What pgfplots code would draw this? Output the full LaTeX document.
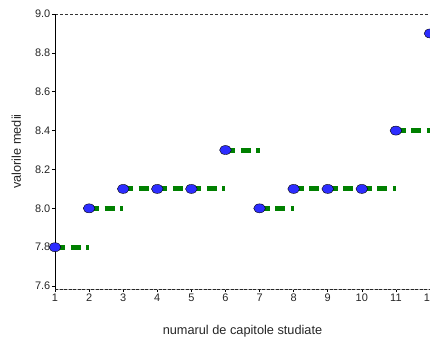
\documentclass[border=0pt]{standalone}
\usepackage{pgfplots}
\pgfplotsset{compat=1.18}
\usepackage{pgfplotstable}
\usepackage{fontspec}
\setmainfont{Liberation Sans}
\definecolor{mkblue}{RGB}{45,45,255}
\definecolor{lngreen}{RGB}{0,128,0}

\pgfplotstableread{
x y
1 7.8
2 7.8
2 nan
2 8.0
3 8.0
3 nan
3 8.1
4 8.1
4 nan
4 8.1
5 8.1
5 nan
5 8.1
6 8.1
6 nan
6 8.3
7 8.3
7 nan
7 8.0
8 8.0
8 nan
8 8.1
9 8.1
9 nan
9 8.1
10 8.1
10 nan
10 8.1
11 8.1
11 nan
11 8.4
12 8.4
}\segs

\pgfplotstableread{
x y
1 7.8
2 8.0
3 8.1
4 8.1
5 8.1
6 8.3
7 8.0
8 8.1
9 8.1
10 8.1
11 8.4
12 8.9
}\pts

\begin{document}
\begin{tikzpicture}
\begin{axis}[
  scale only axis,
  width=375bp, height=275bp,
  xmin=1, xmax=12, ymin=7.585, ymax=9.0,
  xtick={1,...,12},
  ytick={7.6,7.8,8.0,8.2,8.4,8.6,8.8,9.0},
  /pgf/number format/assume math mode=true,
  yticklabel style={/pgf/number format/.cd, fixed, fixed zerofill, precision=1},
  tick label style={font=\fontsize{11}{13}\selectfont, text=black!85, inner sep=1.5bp},
  tick align=outside,
  major tick length=3bp,
  tick style={black, line width=0.6bp},
  xtick pos=bottom, ytick pos=left,
  axis line style={draw=none},
  unbounded coords=jump,
  clip=false,
  xlabel={numarul de capitole studiate},
  ylabel={valorile medii},
  every axis x label/.style={at={(rel axis cs:0.5,0)}, anchor=base, yshift=-45bp, font=\fontsize{12.8}{15}\selectfont, text=black!85},
  every axis y label/.style={at={(rel axis cs:0,0.5)}, rotate=90, anchor=base, yshift=34bp, font=\fontsize{12.8}{15}\selectfont, text=black!85},
]
\draw[gray!50, line width=0.8bp, dash pattern=on 3bp off 3bp] (rel axis cs:1,0) -- (rel axis cs:1,1);
\draw[black!80, line width=0.8bp, dash pattern=on 2.5bp off 2.5bp] (rel axis cs:0,1) -- (rel axis cs:1,1);
\draw[gray!60, line width=0.8bp] (rel axis cs:0,0) -- (rel axis cs:1,0);
\draw[black!85, line width=0.8bp, dash pattern=on 3bp off 1.5bp] (rel axis cs:0,0) -- (rel axis cs:1,0);
\draw[black, line width=1bp] (rel axis cs:0,0) -- (rel axis cs:0,1);
\addplot[lngreen, line width=5bp, dash pattern=on 10bp off 5.5bp, line cap=butt, no markers] table {\segs};
\addplot[only marks, mark=*, mark size=4.5bp, mark options={fill=mkblue, draw=none, xscale=1.3}] table {\pts};
\end{axis}
\pgfresetboundingbox
\path[use as bounding box] ([xshift=-55bp,yshift=-49bp]current axis.south west) rectangle ([yshift=14bp]current axis.north east);
\end{tikzpicture}
\end{document}
